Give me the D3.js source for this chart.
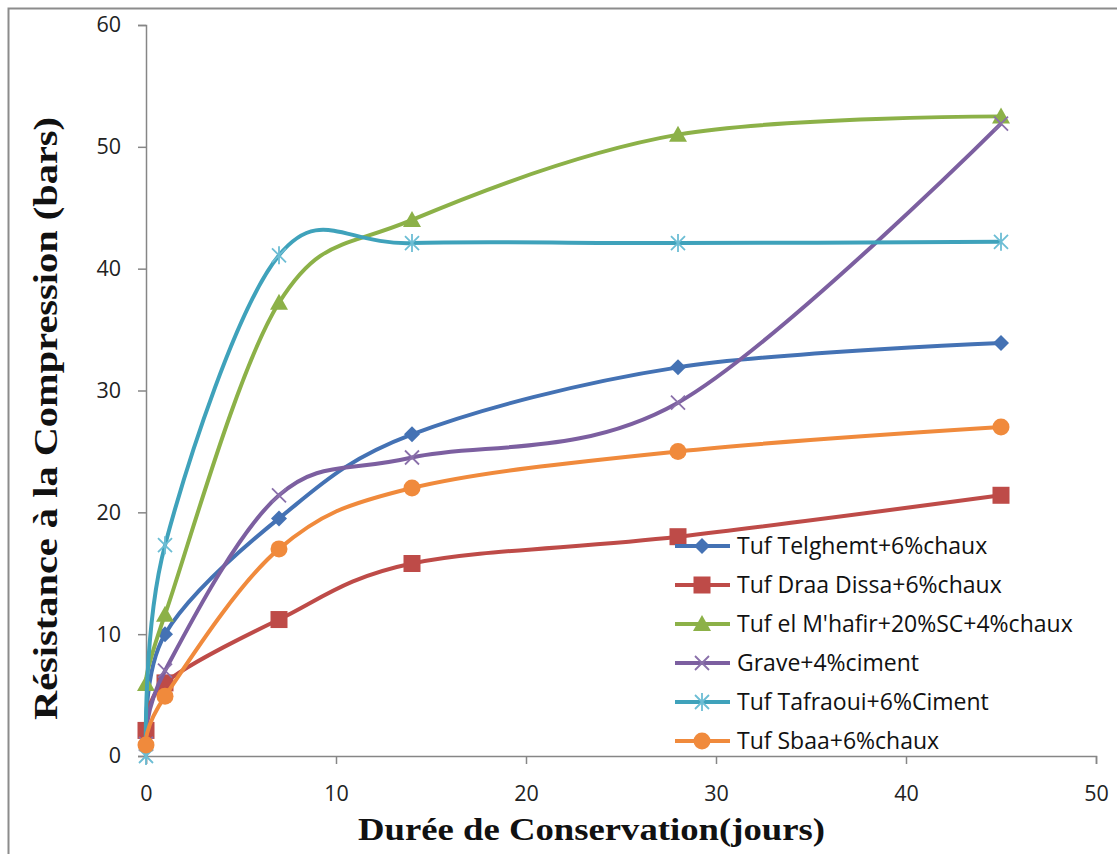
<!DOCTYPE html>
<html><head><meta charset="utf-8">
<script src="https://cdn.jsdelivr.net/npm/d3@7"></script>
<style>body{margin:0;background:#fff}svg{display:block}</style>
</head><body><svg id="c" width="1117" height="854"></svg>
<script>
const days = [0, 1, 7, 14, 28, 45];
const seriesNames = ["Tuf Telghemt+6%chaux","Tuf Draa Dissa+6%chaux","Tuf el M'hafir+20%SC+4%chaux","Grave+4%ciment","Tuf Tafraoui+6%Ciment","Tuf Sbaa+6%chaux"];
const telghemt = [1.0, 10.0, 19.5, 26.4, 31.9, 33.9];
const draaDissa = [2.1, 6.0, 11.2, 15.8, 18.0, 21.4];
const mhafir = [5.9, 11.6, 37.2, 44.0, 51.0, 52.5];
const grave = [1.0, 7.0, 21.4, 24.5, 29.0, 51.9];
const tafraoui = [0.0, 17.3, 41.1, 42.1, 42.1, 42.2];
const sbaa = [0.9, 4.9, 17.0, 22.0, 25.0, 27.0];
const xTicks = [0, 10, 20, 30, 40, 50];
const yTicks = [0, 10, 20, 30, 40, 50, 60];

const seriesValues = [telghemt, draaDissa, mhafir, grave, tafraoui, sbaa];
const colors = ["#4472b4","#be4b48","#8cb148","#7c5fa0","#3fa2bb","#f08a3c"];
const markerColors = ["#4472b4","#be4b48","#8cb148","#8a70aa","#6cbdd4","#f08a3c"];
const markers = ["diamond","square","triangle","x","star","circle"];

const svg = d3.select("#c");
svg.append("rect").attr("x",8.5).attr("y",8.5).attr("width",1120).attr("height",860)
  .attr("fill","none").attr("stroke","#8c8c8c").attr("stroke-width",2);

const x = d3.scaleLinear().domain([0,50]).range([146,1096]);
const y = d3.scaleLinear().domain([0,60]).range([756,25]);

const axisColor = "#868686";
const xAxis = svg.append("g").attr("transform","translate(0,756)")
  .call(d3.axisBottom(x).tickValues(xTicks).tickSize(8).tickPadding(22));
const yAxis = svg.append("g").attr("transform","translate(146,0)")
  .call(d3.axisLeft(y).tickValues(yTicks).tickSize(8).tickPadding(17));
[xAxis,yAxis].forEach(a=>{
  a.select(".domain").attr("stroke",axisColor).attr("stroke-width",1.5);
  a.selectAll(".tick line").attr("stroke",axisColor).attr("stroke-width",1.5);
  a.selectAll(".tick text").attr("fill","#222").style("font-family","'Open Sans', 'Noto Sans', sans-serif").style("font-size","21.5px");
});

const line = d3.line().x((d,i)=>x(days[i])).y(d=>y(d)).curve(d3.curveCatmullRom.alpha(0));

function drawMarker(g, type, cx, cy, col){
  const s = 8;
  if(type==="diamond"){
    g.append("path").attr("d",`M${cx},${cy-s}L${cx+s},${cy}L${cx},${cy+s}L${cx-s},${cy}Z`).attr("fill",col);
  } else if(type==="square"){
    g.append("rect").attr("x",cx-8.5).attr("y",cy-8.5).attr("width",17).attr("height",17).attr("fill",col);
  } else if(type==="triangle"){
    g.append("path").attr("d",`M${cx},${cy-9}L${cx+9},${cy+7}L${cx-9},${cy+7}Z`).attr("fill",col);
  } else if(type==="circle"){
    g.append("circle").attr("cx",cx).attr("cy",cy).attr("r",8.5).attr("fill",col);
  } else if(type==="x"){
    g.append("path").attr("d",`M${cx-7},${cy-7}L${cx+7},${cy+7}M${cx-7},${cy+7}L${cx+7},${cy-7}`).attr("stroke",col).attr("stroke-width",1.8).attr("fill","none");
  } else if(type==="star"){
    g.append("path").attr("d",`M${cx-7},${cy-7}L${cx+7},${cy+7}M${cx-7},${cy+7}L${cx+7},${cy-7}M${cx},${cy-9}L${cx},${cy+9}`).attr("stroke",col).attr("stroke-width",1.8).attr("fill","none");
  }
}

const plot = svg.append("g");
seriesValues.forEach((vals,k)=>{
  const g = plot.append("g");
  g.append("path").attr("d",line(vals)).attr("fill","none").attr("stroke",colors[k]).attr("stroke-width",4).attr("stroke-linejoin","round");
  vals.forEach((v,i)=>drawMarker(g, markers[k], x(days[i]), y(v), markerColors[k]));
});

const leg = svg.append("g");
seriesNames.forEach((name,k)=>{
  const ly = 546 + k*39;
  leg.append("line").attr("x1",675).attr("x2",730).attr("y1",ly).attr("y2",ly).attr("stroke",colors[k]).attr("stroke-width",4);
  drawMarker(leg, markers[k], 702, ly, markerColors[k]);
  leg.append("text").attr("x",737).attr("y",ly+8).text(name)
    .attr("fill","#111").style("font-family","'Open Sans', 'Noto Sans', sans-serif").style("font-size","23px");
});

svg.append("text").attr("x",358).attr("y",840).attr("textLength",467).attr("lengthAdjust","spacingAndGlyphs")
  .style("font-family","'Liberation Serif', 'Times New Roman', serif").style("font-weight","bold").style("font-size","32px")
  .attr("fill","#111").text("Durée de Conservation(jours)");
svg.append("text").attr("transform","translate(57,720) rotate(-90)").attr("textLength",603).attr("lengthAdjust","spacingAndGlyphs")
  .style("font-family","'Liberation Serif', 'Times New Roman', serif").style("font-weight","bold").style("font-size","34px")
  .attr("fill","#111").text("Résistance à la Compression (bars)");
</script></body></html>
